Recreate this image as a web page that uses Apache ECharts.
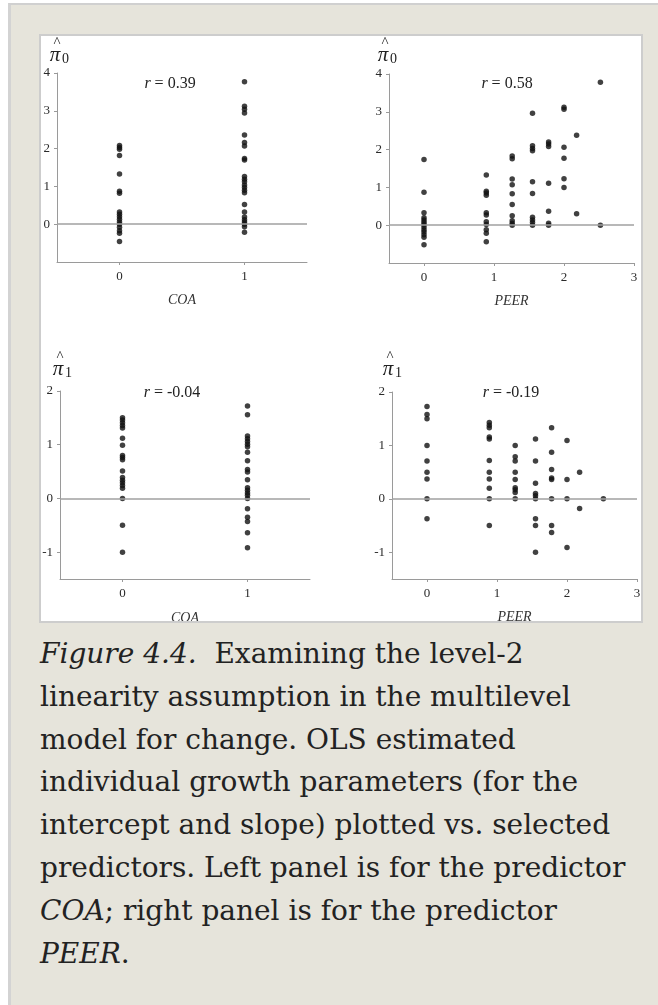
<!DOCTYPE html>
<html>
<head>
<meta charset="utf-8">
<script src="https://cdn.jsdelivr.net/npm/echarts@6/dist/echarts.min.js"></script>
<style>
  html, body { margin: 0; padding: 0; background: #ffffff; width: 658px; height: 1005px; overflow: hidden; }
  #page {
    position: absolute; left: 8px; top: 3px; width: 660px; height: 1010px;
    background: #e6e4db; border-left: 3px solid #d3d3d3; border-top: 2px solid #d0d0d0;
  }
  #frame {
    position: absolute; left: 39px; top: 34px; width: 600px; height: 585px;
    border: 2px solid #cdcdcd; background: #ffffff; overflow: hidden;
  }
  #chart { position: absolute; left: 0; top: 0; width: 600px; height: 585px; }
  #caption {
    position: absolute; left: 40px; top: 633px;
    font-family: "DejaVu Serif", serif; font-size: 28px; line-height: 42.8px;
    color: #222222; white-space: nowrap;
  }
  #caption i { font-style: italic; }
</style>
</head>
<body>
<div id="page"></div>
<div id="frame"><div id="chart"></div></div>
<div id="caption">
  <i>Figure 4.4.</i>&nbsp; Examining the level-2<br>
  linearity assumption in the multilevel<br>
  model for change. OLS estimated<br>
  individual growth parameters (for the<br>
  intercept and slope) plotted vs. selected<br>
  predictors. Left panel is for the predictor<br>
  <i>COA</i>; right panel is for the predictor<br>
  <i>PEER</i>.
</div>
<script>
// COA groups (0 / 1) and the OLS estimates of each child
const coaLevels = [0, 1];
const coaPi0 = [
  [2.08, 2.03, 1.98, 1.82, 1.33, 0.87, 0.82, 0.32, 0.26, 0.2, 0.13, 0.06, 0.0, -0.08, -0.17, -0.24, -0.46],
  [3.77, 3.12, 3.04, 2.94, 2.36, 2.16, 2.07, 1.74, 1.7, 1.26, 1.19, 1.12, 1.04, 0.97, 0.9, 0.83, 0.52, 0.32, 0.19, 0.12, 0.06, 0.0, -0.07, -0.21]
];
const coaPi1 = [
  [1.5, 1.46, 1.41, 1.36, 1.31, 1.12, 0.99, 0.8, 0.76, 0.72, 0.51, 0.39, 0.34, 0.29, 0.24, 0.19, 0.0, -0.5, -1.0],
  [1.72, 1.56, 1.16, 1.11, 1.06, 1.01, 0.96, 0.86, 0.7, 0.54, 0.49, 0.35, 0.2, 0.15, 0.1, 0.06, 0.0, -0.19, -0.35, -0.43, -0.64, -0.92]
];

// PEER levels and the estimates at each level
const peerLevels = [0, 0.89, 1.26, 1.55, 1.78, 2.0, 2.18, 2.52];
const peerPi0 = [
  [1.74, 0.87, 0.33, 0.2, 0.14, 0.08, 0.02, -0.05, -0.12, -0.18, -0.25, -0.32, -0.52],
  [1.33, 0.9, 0.85, 0.79, 0.33, 0.27, 0.09, 0.02, -0.12, -0.21, -0.44],
  [1.83, 1.76, 1.22, 1.07, 0.83, 0.55, 0.25, 0.12, 0.05, 0.0],
  [2.96, 2.1, 2.03, 1.97, 1.15, 0.84, 0.21, 0.14, 0.07, 0.0],
  [2.2, 2.15, 2.08, 1.11, 0.37, 0.05, 0.0],
  [3.12, 3.07, 2.06, 1.77, 1.23, 1.0],
  [2.38, 0.3],
  [3.78, 0.0]
];
const peerPi1 = [
  [1.73, 1.58, 1.5, 1.0, 0.71, 0.5, 0.37, 0.0, -0.37],
  [1.43, 1.38, 1.33, 1.16, 1.12, 0.72, 0.5, 0.37, 0.2, 0.0, -0.5],
  [1.0, 0.79, 0.71, 0.5, 0.36, 0.21, 0.17, 0.12, 0.0],
  [1.12, 0.71, 0.29, 0.1, 0.06, 0.0, -0.37, -0.5, -1.0],
  [1.33, 0.87, 0.55, 0.39, 0.36, 0.0, -0.5, -0.63],
  [1.09, 0.36, 0.0, -0.91],
  [0.5, -0.18],
  [0.0]
];

// correlation labels and axis tick values
const corrLabels = ['0.39', '0.58', '-0.04', '-0.19'];
const coaTicks = [0, 1];
const peerTicks = [0, 1, 2, 3];
const pi0Ticks = [0, 1, 2, 3, 4];
const pi1Ticks = [-1, 0, 1, 2];

function pairs(levels, groups) {
  const out = [];
  groups.forEach((g, i) => g.forEach(v => out.push([levels[i], v])));
  return out;
}

const SERIF = '"Liberation Serif", "Times New Roman", serif';
const AX_COLOR = '#9a9a9a';

function xAxis(grid, min, max, ticks, name, gap) {
  return {
    type: 'value', gridIndex: grid, min: min, max: max,
    name: name, nameLocation: 'middle', nameGap: gap,
    nameTextStyle: { fontFamily: SERIF, fontStyle: 'italic', fontSize: 14, color: '#333' },
    axisLine: { show: true, onZero: false, lineStyle: { color: AX_COLOR, width: 1 } },
    axisTick: { show: true, length: 3, customValues: ticks, lineStyle: { color: AX_COLOR } },
    axisLabel: { customValues: ticks, margin: 8, fontFamily: SERIF, fontSize: 13, color: '#2a2a2a' },
    splitLine: { show: false }
  };
}
function yAxis(grid, min, max, ticks) {
  return {
    type: 'value', gridIndex: grid, min: min, max: max,
    axisLine: { show: true, onZero: false, lineStyle: { color: AX_COLOR, width: 1 } },
    axisTick: { show: true, length: 3, customValues: ticks, lineStyle: { color: AX_COLOR } },
    axisLabel: { customValues: ticks, margin: 7, fontFamily: SERIF, fontSize: 13, color: '#2a2a2a' },
    splitLine: { show: false }
  };
}
function scatter(idx, data) {
  return {
    type: 'scatter', xAxisIndex: idx, yAxisIndex: idx, data: data,
    symbol: 'circle', symbolSize: 5.5, itemStyle: { color: '#111' },
    silent: true, animation: false,
    markLine: {
      silent: true, symbol: 'none', label: { show: false },
      lineStyle: { color: '#a0a0a0', width: 1.5, type: 'solid' },
      data: [{ yAxis: 0 }]
    }
  };
}

// y-axis symbol: hat, pi and subscript
function piLabel(x, y, sub) {
  return [
    { type: 'text', x: x + 2, y: y - 12, style: { text: '^', font: '15px ' + SERIF, fill: '#222', textAlign: 'center', textVerticalAlign: 'middle' } },
    { type: 'text', x: x, y: y, style: { text: 'π', font: 'italic 21px ' + SERIF, fill: '#222', textAlign: 'center', textVerticalAlign: 'middle' } },
    { type: 'text', x: x + 7, y: y + 4, style: { text: sub, font: '14px ' + SERIF, fill: '#222', textAlign: 'left', textVerticalAlign: 'middle' } }
  ];
}
function corrLabel(x, y, val) {
  return {
    type: 'text', x: x, y: y,
    style: {
      text: '{i|r} = ' + val, font: '16px ' + SERIF, fill: '#222',
      textAlign: 'center', textVerticalAlign: 'middle',
      rich: { i: { fontStyle: 'italic', fontFamily: SERIF, fontSize: 16, fill: '#222' } }
    }
  };
}

const chart = echarts.init(document.getElementById('chart'), null, { renderer: 'canvas' });
chart.setOption({
  backgroundColor: '#ffffff',
  animation: false,
  grid: [
    { left: 16, top: 37, width: 250, height: 189, outerBoundsMode: 'none' },
    { left: 348, top: 38, width: 245, height: 189, outerBoundsMode: 'none' },
    { left: 19, top: 355, width: 250, height: 188, outerBoundsMode: 'none' },
    { left: 351, top: 356, width: 245, height: 187, outerBoundsMode: 'none' }
  ],
  xAxis: [
    xAxis(0, -0.5, 1.5, coaTicks, 'COA', 31),
    xAxis(1, -0.5, 3, peerTicks, 'PEER', 31),
    xAxis(2, -0.5, 1.5, coaTicks, 'COA', 32),
    xAxis(3, -0.5, 3, peerTicks, 'PEER', 31)
  ],
  yAxis: [
    yAxis(0, -1, 4, pi0Ticks),
    yAxis(1, -1, 4, pi0Ticks),
    yAxis(2, -1.5, 2, pi1Ticks),
    yAxis(3, -1.5, 2, pi1Ticks)
  ],
  series: [
    scatter(0, pairs(coaLevels, coaPi0)),
    scatter(1, pairs(peerLevels, peerPi0)),
    scatter(2, pairs(coaLevels, coaPi1)),
    scatter(3, pairs(peerLevels, peerPi1))
  ],
  graphic: [].concat(
    piLabel(14, 19, '0'),
    piLabel(342, 19, '0'),
    piLabel(17, 333, '1'),
    piLabel(347, 333, '1'),
    [
      corrLabel(129, 48, corrLabels[0]),
      corrLabel(466, 48, corrLabels[1]),
      corrLabel(131, 357, corrLabels[2]),
      corrLabel(470, 357, corrLabels[3])
    ]
  )
});
</script>
</body>
</html>
